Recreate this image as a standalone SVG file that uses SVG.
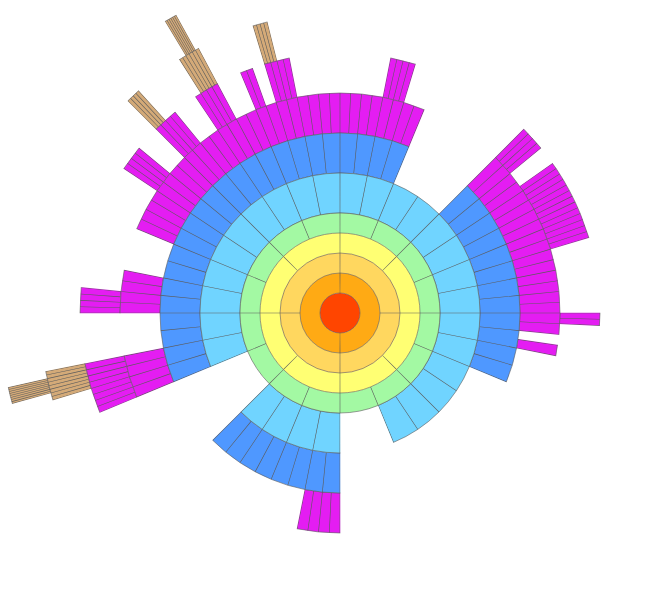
<svg xmlns="http://www.w3.org/2000/svg" width="660" height="611" viewBox="0 0 660 611">
<style>
.t{fill:none;stroke:#5c5c5c}
.o{fill:none;stroke:#5c5c5c;stroke-width:0.6}
.m{fill:none;stroke:#fff}
.f{fill:none}
</style>
<defs>
<mask id="m5" maskUnits="userSpaceOnUse" x="0" y="0" width="660" height="611">
<circle class="m" cx="340" cy="313" r="120" stroke-width="43" pathLength="360" transform="rotate(-90 340 313)" stroke-dasharray="157.65 22.2 45.3 22.2 112.65 0"/>
</mask>
<mask id="m6" maskUnits="userSpaceOnUse" x="0" y="0" width="660" height="611">
<circle class="m" cx="340" cy="313" r="160" stroke-width="43" pathLength="360" transform="rotate(-90 340 313)" stroke-dasharray="22.61 22.28 67.72 67.28 45.22 22.28 112.61 0"/>
</mask>
<mask id="m7" maskUnits="userSpaceOnUse" x="0" y="0" width="660" height="611">
<circle class="m" cx="340" cy="313" r="200" stroke-width="43" pathLength="360" transform="rotate(-90 340 313)" stroke-dasharray="22.59 22.32 50.805 2.6325 2.9925 78.57 11.43 56.07 11.43 11.07 11.43 11.07 67.59 0"/>
</mask>
<mask id="m8" maskUnits="userSpaceOnUse" x="0" y="0" width="660" height="611">
<g class="m" stroke-width="43" transform="rotate(-90 340 313)">
<circle cx="340" cy="313" r="240" pathLength="360" stroke-dasharray="5.765 360" stroke-dashoffset="-11.18"/>
<circle cx="340" cy="313" r="240" pathLength="360" stroke-dasharray="5.765 360" stroke-dashoffset="-44.93"/>
<circle cx="340" cy="313" r="240" pathLength="360" stroke-dasharray="18.421 360" stroke-dashoffset="-54.774"/>
<circle cx="340" cy="313" r="240" pathLength="360" stroke-dasharray="2.953 360" stroke-dashoffset="-89.93"/>
<circle cx="340" cy="313" r="240" pathLength="360" stroke-dasharray="11.39 360" stroke-dashoffset="-247.43"/>
<circle cx="340" cy="313" r="240" pathLength="360" stroke-dasharray="5.765 360" stroke-dashoffset="-269.93"/>
<circle cx="340" cy="313" r="240" pathLength="360" stroke-dasharray="5.765 360" stroke-dashoffset="-303.68"/>
<circle cx="340" cy="313" r="240" pathLength="360" stroke-dasharray="5.765 360" stroke-dashoffset="-314.93"/>
<circle cx="340" cy="313" r="240" pathLength="360" stroke-dasharray="5.765 360" stroke-dashoffset="-326.18"/>
<circle cx="340" cy="313" r="240" pathLength="360" stroke-dasharray="2.953 360" stroke-dashoffset="-337.43"/>
<circle cx="340" cy="313" r="240" pathLength="360" stroke-dasharray="5.765 360" stroke-dashoffset="-343.055"/>
</g>
</mask>
<mask id="m9" maskUnits="userSpaceOnUse" x="0" y="0" width="660" height="611">
<g class="m" stroke-width="43" transform="rotate(-90 340 313)">
<circle cx="340" cy="313" r="280" pathLength="360" stroke-dasharray="5.745 360" stroke-dashoffset="-253.065"/>
<circle cx="340" cy="313" r="280" pathLength="360" stroke-dasharray="2.9325 360" stroke-dashoffset="-314.94"/>
<circle cx="340" cy="313" r="280" pathLength="360" stroke-dasharray="4.339 360" stroke-dashoffset="-327.596"/>
<circle cx="340" cy="313" r="280" pathLength="360" stroke-dasharray="2.9325 360" stroke-dashoffset="-343.065"/>
</g>
</mask>
<mask id="m10" maskUnits="userSpaceOnUse" x="0" y="0" width="660" height="611">
<g class="m" stroke-width="43" transform="rotate(-90 340 313)">
<circle cx="340" cy="313" r="320" pathLength="360" stroke-dasharray="2.9125 360" stroke-dashoffset="-254.48125"/>
<circle cx="340" cy="313" r="320" pathLength="360" stroke-dasharray="2.2094 360" stroke-dashoffset="-329.0125"/>
</g>
</mask>
</defs>
<rect width="660" height="611" fill="#fff"/>

<g id="gen10" mask="url(#m10)">
<circle class="f" cx="340" cy="313" r="320" stroke="#D4AA78" stroke-width="40"/>
<circle class="t" cx="340" cy="313" r="320" stroke-width="40" pathLength="360" transform="rotate(-90 340 313)" stroke-dasharray="0.1 0.2515625" stroke-dashoffset="0.05"/>
<circle class="o" cx="340" cy="313" r="300"/>
<circle class="o" cx="340" cy="313" r="340"/>
</g>
<g id="gen9" mask="url(#m9)">
<circle class="f" cx="340" cy="313" r="280" stroke="#D4AA78" stroke-width="40"/>
<circle class="t" cx="340" cy="313" r="280" stroke-width="40" pathLength="360" transform="rotate(-90 340 313)" stroke-dasharray="0.12 0.583125" stroke-dashoffset="0.06"/>
<circle class="o" cx="340" cy="313" r="260"/>
<circle class="o" cx="340" cy="313" r="300"/>
</g>
<g id="gen8" mask="url(#m8)">
<circle class="f" cx="340" cy="313" r="240" stroke="#E41DF2" stroke-width="40"/>
<circle class="t" cx="340" cy="313" r="240" stroke-width="40" pathLength="360" transform="rotate(-90 340 313)" stroke-dasharray="0.14 1.26625" stroke-dashoffset="0.07"/>
<circle class="o" cx="340" cy="313" r="220"/>
<circle class="o" cx="340" cy="313" r="260"/>
</g>
<g id="gen7" mask="url(#m7)">
<circle class="f" cx="340" cy="313" r="200" stroke="#E41DF2" stroke-width="40"/>
<circle class="t" cx="340" cy="313" r="200" stroke-width="40" pathLength="360" transform="rotate(-90 340 313)" stroke-dasharray="0.18 2.6325" stroke-dashoffset="0.09"/>
<circle class="o" cx="340" cy="313" r="180"/>
<circle class="o" cx="340" cy="313" r="220"/>
</g>
<g id="gen6" mask="url(#m6)">
<circle class="f" cx="340" cy="313" r="160" stroke="#4F98FF" stroke-width="40"/>
<circle class="t" cx="340" cy="313" r="160" stroke-width="40" pathLength="360" transform="rotate(-90 340 313)" stroke-dasharray="0.22 5.405" stroke-dashoffset="0.11"/>
<circle class="o" cx="340" cy="313" r="140"/>
<circle class="o" cx="340" cy="313" r="180"/>
</g>
<g id="gen5" mask="url(#m5)">
<circle class="f" cx="340" cy="313" r="120" stroke="#70D4FF" stroke-width="40"/>
<circle class="t" cx="340" cy="313" r="120" stroke-width="40" pathLength="360" transform="rotate(-90 340 313)" stroke-dasharray="0.3 10.95" stroke-dashoffset="0.15"/>
<circle class="o" cx="340" cy="313" r="100"/>
<circle class="o" cx="340" cy="313" r="140"/>
</g>
<g id="gen4">
<circle class="f" cx="340" cy="313" r="90" stroke="#A3F9A3" stroke-width="20"/>
<circle class="t" cx="340" cy="313" r="90" stroke-width="20" pathLength="360" transform="rotate(-90 340 313)" stroke-dasharray="0.38 22.12" stroke-dashoffset="0.19"/>
<circle class="o" cx="340" cy="313" r="100"/>
</g>
<g id="gen3">
<circle class="f" cx="340" cy="313" r="70" stroke="#FFFF73" stroke-width="20"/>
<circle class="t" cx="340" cy="313" r="70" stroke-width="20" pathLength="360" transform="rotate(-90 340 313)" stroke-dasharray="0.49 44.51" stroke-dashoffset="0.245"/>
<circle class="o" cx="340" cy="313" r="80"/>
</g>
<g id="gen2">
<circle class="f" cx="340" cy="313" r="50" stroke="#FFD75F" stroke-width="20"/>
<circle class="t" cx="340" cy="313" r="50" stroke-width="20" pathLength="360" transform="rotate(-90 340 313)" stroke-dasharray="0.69 89.31" stroke-dashoffset="0.345"/>
<circle class="o" cx="340" cy="313" r="60"/>
</g>
<g id="gen1">
<circle class="f" cx="340" cy="313" r="30" stroke="#FFAA14" stroke-width="20"/>
<circle class="t" cx="340" cy="313" r="30" stroke-width="20" pathLength="360" transform="rotate(-90 340 313)" stroke-dasharray="1.1 178.9" stroke-dashoffset="0.55"/>
<circle class="o" cx="340" cy="313" r="40"/>
</g>
<g id="gen0">
<circle cx="340" cy="313" r="20" fill="#FF4500" stroke="#5c5c5c" stroke-width="0.6"/>
</g>
</svg>
